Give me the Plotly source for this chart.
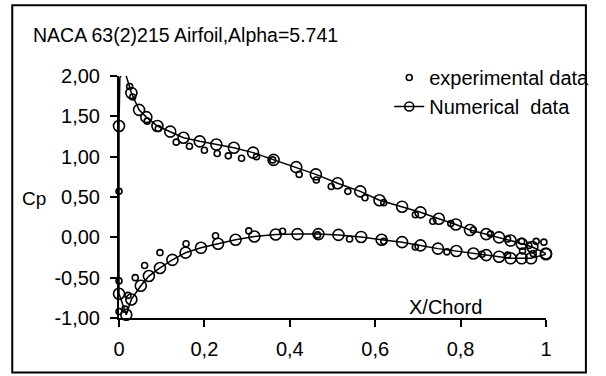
import plotly.graph_objects as go

# ---- data ----
num_lower_x = [1.0, 0.965, 0.943, 0.917, 0.89, 0.86, 0.83, 0.79, 0.747, 0.706, 0.663, 0.615, 0.567,
               0.514, 0.467, 0.418, 0.367, 0.317, 0.273, 0.232, 0.192, 0.156, 0.125, 0.096, 0.07,
               0.051, 0.029, 0.017, 0.0, 0.0]
num_lower_cp = [-0.21, -0.26, -0.26, -0.26, -0.24, -0.22, -0.20, -0.17, -0.14, -0.10, -0.06, -0.03, 0.005,
                0.03, 0.04, 0.04, 0.035, 0.01, -0.03, -0.08, -0.13, -0.19, -0.28, -0.38, -0.48,
                -0.60, -0.77, -0.96, -0.70, 1.38]
peak_x = [0.002, 0.013]
peak_cp = [1.98, 2.07]
num_upper_x = [0.029, 0.047, 0.064, 0.09, 0.12, 0.151, 0.189, 0.228, 0.269, 0.314, 0.362, 0.415, 0.461,
               0.512, 0.565, 0.61, 0.663, 0.706, 0.749, 0.789, 0.822, 0.86, 0.89, 0.917, 0.943, 0.968, 1.0]
num_upper_cp = [1.79, 1.58, 1.49, 1.38, 1.31, 1.235, 1.19, 1.15, 1.11, 1.05, 0.96, 0.87, 0.78,
                0.67, 0.57, 0.46, 0.38, 0.31, 0.23, 0.16, 0.09, 0.04, 0.0, -0.04, -0.08, -0.12, -0.2]

exp_x = [0.0, 0.025, 0.032, 0.066, 0.092, 0.134, 0.165, 0.2, 0.23, 0.256, 0.287, 0.322, 0.36,
         0.422, 0.462, 0.497, 0.536, 0.576, 0.62, 0.694, 0.735, 0.777, 0.83, 0.87, 0.91, 0.943,
         0.96, 0.977, 0.995,
         0.0, 0.0, 0.014, 0.021, 0.038, 0.06, 0.096, 0.157, 0.226, 0.304, 0.383, 0.465, 0.54,
         0.62, 0.694, 0.768, 0.85, 0.91, 0.945, 0.97]
exp_cp = [0.57, 1.87, 1.74, 1.44, 1.35, 1.18, 1.13, 1.08, 1.04, 1.01, 0.98, 1.0, 0.96,
          0.78, 0.71, 0.63, 0.57, 0.49, 0.43, 0.28, 0.20, 0.17, 0.09, 0.04, -0.02, -0.05,
          -0.10, -0.05, -0.06,
          -0.54, -0.92, -0.89, -0.72, -0.50, -0.35, -0.19, -0.08, 0.02, 0.08, 0.075, 0.03, -0.02,
          -0.05, -0.12, -0.18, -0.21, -0.22, -0.17, -0.20]

x_ticks = [0, 0.2, 0.4, 0.6, 0.8, 1]
x_tick_labels = ["0", "0,2", "0,4", "0,6", "0,8", "1"]
y_ticks = [-1, -0.5, 0, 0.5, 1, 1.5, 2]
y_tick_labels = ["-1,00", "-0,50", "0,00", "0,50", "1,00", "1,50", "2,00"]

FONT = "Arial, 'Liberation Sans', sans-serif"

line_x = num_lower_x + peak_x + num_upper_x
line_cp = num_lower_cp + peak_cp + num_upper_cp
node_x = num_lower_x + num_upper_x
node_cp = num_lower_cp + num_upper_cp

fig = go.Figure()
fig.add_trace(go.Scatter(x=exp_x, y=exp_cp, mode="markers", name="experimental data",
                         marker=dict(symbol="circle-open", size=6, color="black", line=dict(width=1.6)),
                         cliponaxis=False))
fig.add_trace(go.Scatter(x=line_x, y=line_cp, mode="lines", showlegend=False,
                         line=dict(color="black", width=1.5), cliponaxis=False))
fig.add_trace(go.Scatter(x=node_x, y=node_cp, mode="markers", showlegend=False,
                         marker=dict(symbol="circle-open", size=11, color="black", line=dict(width=1.6)),
                         cliponaxis=False))
fig.add_trace(go.Scatter(x=[None], y=[None], mode="lines+markers", name="Numerical  data",
                         line=dict(color="black", width=1.5),
                         marker=dict(symbol="circle-open", size=9, color="black", line=dict(width=1.6))))

W, H = 606, 376
L, R, T, B = 119, 43, 76, 57.5
pw, ph = W - L - R, H - T - B

def px(xp):
    return (xp - L) / pw

def py(yp):
    return (H - B - yp) / ph

fig.update_layout(
    width=W, height=H,
    margin=dict(l=L, r=R, t=T, b=B),
    paper_bgcolor="white", plot_bgcolor="white",
    font=dict(family=FONT, color="black", size=20),
    showlegend=True,
    legend=dict(x=px(400), y=py(58), xanchor="left", yanchor="top",
                font=dict(size=20), bgcolor="rgba(0,0,0,0)", tracegroupgap=0,
                itemsizing="trace"),
    xaxis=dict(range=[0, 1], tickvals=x_ticks, ticktext=x_tick_labels,
               showgrid=False, zeroline=False, showline=True, linecolor="black", linewidth=2,
               ticks="outside", ticklen=7, tickwidth=1.5, tickcolor="black",
               ticklabelstandoff=5, tickfont=dict(size=20), fixedrange=True),
    yaxis=dict(range=[-1, 2], tickvals=y_ticks, ticktext=y_tick_labels,
               showgrid=False, zeroline=False, showline=True, linecolor="black", linewidth=2,
               ticks="outside", ticklen=7, tickwidth=1.5, tickcolor="black",
               ticklabelstandoff=6, tickfont=dict(size=20), fixedrange=True),
    shapes=[dict(type="rect", xref="paper", yref="paper",
                 x0=px(8), x1=px(604.5), y0=py(373), y1=py(5),
                 line=dict(color="black", width=2), fillcolor="rgba(0,0,0,0)", layer="below")],
    annotations=[
        dict(text="NACA 63(2)215 Airfoil,Alpha=5.741", xref="paper", yref="paper",
             x=px(27), y=py(35), xanchor="left", yanchor="middle", showarrow=False,
             font=dict(size=19.5)),
        dict(text="Cp", xref="paper", yref="paper", x=px(31), y=py(199),
             xanchor="center", yanchor="middle", showarrow=False, font=dict(size=19)),
        dict(text="X/Chord", xref="paper", yref="paper", x=px(459), y=py(307),
             xanchor="center", yanchor="middle", showarrow=False, font=dict(size=20)),
    ],
)

fig.write_html("out.html")
